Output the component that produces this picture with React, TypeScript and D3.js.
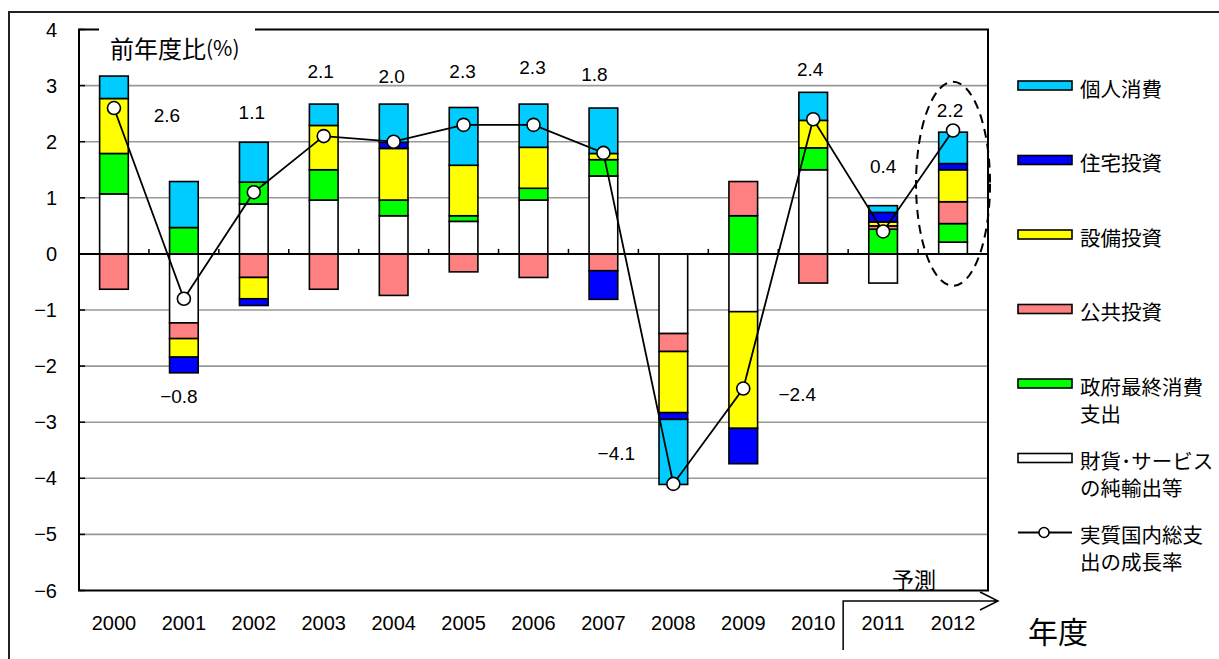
import React from "react";
import * as d3 from "d3";

// fiscal years on the x axis
const years = ["2000", "2001", "2002", "2003", "2004", "2005", "2006", "2007", "2008", "2009", "2010", "2011", "2012"];

// real GDE growth rate (line)
const growth = [2.6, -0.8, 1.1, 2.1, 2.0, 2.3, 2.3, 1.8, -4.1, -2.4, 2.4, 0.4, 2.2];

// contributions (stacked bars)
const netExports = [1.07, -1.23, 0.89, 0.96, 0.68, 0.58, 0.96, 1.39, -1.42, -1.03, 1.5, -0.52, 0.21];
const govConsumption = [0.72, 0.47, 0.39, 0.54, 0.28, 0.1, 0.21, 0.29, 0, 0.68, 0.39, 0.44, 0.33];
const publicInvestment = [-0.63, -0.28, -0.42, -0.63, -0.74, -0.32, -0.42, -0.3, -0.32, 0.61, -0.52, 0.06, 0.39];
const businessInvestment = [0.98, -0.33, -0.38, 0.79, 0.92, 0.9, 0.73, 0.11, -1.09, -2.08, 0.49, 0.07, 0.57];
const housingInvestment = [0, -0.28, -0.12, 0, 0.11, 0, 0, -0.51, -0.12, -0.63, 0, 0.17, 0.11];
const privateConsumption = [0.4, 0.82, 0.71, 0.38, 0.68, 1.03, 0.77, 0.81, -1.16, 0, 0.5, 0.12, 0.56];

const yTicks = [4, 3, 2, 1, 0, -1, -2, -3, -4, -5, -6];

// stacking order (bottom -> top)
const seriesKeys = ["net", "gov", "pub", "biz", "house", "priv"];
const seriesColors: Record<string, string> = {
  net: "#ffffff",
  gov: "#00ff00",
  pub: "#ff8080",
  biz: "#ffff00",
  house: "#0000ff",
  priv: "#00ccff",
};

// legend, top -> bottom
const legendKeys = ["priv", "house", "biz", "pub", "gov", "net"];
const legendLabels = [["個人消費"], ["住宅投資"], ["設備投資"], ["公共投資"], ["政府最終消費", "支出"], ["財貨･サービス", "の純輸出等"]];
const lineLegendLabel = ["実質国内総支", "出の成長率"];

// where each growth label sits relative to its marker (px)
const labelOffsets: [number, number][] = [
  [53, 7], [-5, 98], [-2, -80], [-3, -65], [-2, -65], [-1, -53], [-1, -57],
  [-9, -78], [-57, -30], [54, 6], [-3, -50], [0, -65], [-3, -20],
];

const W = 1219;
const H = 659;
const margin = { left: 79, right: 231, top: 29.5, bottom: 68.5 };
const numFont = "'Liberation Sans', Arial, sans-serif";
const jpFont = "'Noto Sans CJK JP', 'Noto Sans CJK SC', sans-serif";

const fmt = (v: number) => (v < 0 ? "\u2212" + Math.abs(v).toFixed(1) : v.toFixed(1));

export default function App() {
  const x0 = margin.left;
  const x1 = W - margin.right;
  const yTop = margin.top;
  const yBot = H - margin.bottom;

  const x = d3.scaleBand<string>().domain(years).range([x0, x1]).padding(0);
  const y = d3.scaleLinear().domain([-6, 4]).range([yBot, yTop]);
  const step = x.step();
  const bw = step * 0.41;
  const cx = (yr: string) => (x(yr) as number) + step / 2;

  const rows = years.map((yr, i) => ({
    year: yr,
    net: netExports[i],
    gov: govConsumption[i],
    pub: publicInvestment[i],
    biz: businessInvestment[i],
    house: housingInvestment[i],
    priv: privateConsumption[i],
  }));

  const stacked = d3
    .stack<any>()
    .keys(seriesKeys)
    .offset(d3.stackOffsetDiverging)(rows);

  const line = d3
    .line<number>()
    .x((_, i) => cx(years[i]))
    .y((d) => y(d));

  const legendX = 1018;
  const legendY0 = 85.5;
  const legendStep = 74.5;

  const bracketX = cx("2011") - step / 2 - 5;
  const arrowX = x1 + 10;

  const legendText = (s: string, key: number, ly: number) => (
    <text
      key={key}
      x={1080}
      y={ly}
      dominantBaseline="central"
      fontFamily={jpFont}
      fontSize={20.5}
      fill="#000"
    >
      {s}
    </text>
  );

  return (
    <svg
      width={W}
      height={H}
      style={{ position: "absolute", left: 0, top: 0, background: "#fff" }}
    >
      {/* outer frame */}
      <path d={`M9,${H} L9,12 L${W},12`} fill="none" stroke="#222" strokeWidth={2} />

      {/* grid */}
      {yTicks
        .filter((t) => t !== 0 && t !== 4 && t !== -6)
        .map((t) => (
          <line key={t} x1={x0} x2={x1} y1={y(t)} y2={y(t)} stroke="#999" strokeWidth={1.6} />
        ))}

      {/* stacked bars */}
      {stacked.map((layer) =>
        layer.map((d, i) => {
          if (d[0] === d[1]) return null;
          const top = y(Math.max(d[0], d[1]));
          const bottom = y(Math.min(d[0], d[1]));
          return (
            <rect
              key={layer.key + i}
              x={cx(years[i]) - bw / 2}
              y={top}
              width={bw}
              height={bottom - top}
              fill={seriesColors[layer.key]}
              stroke="#000"
              strokeWidth={1.6}
            />
          );
        })
      )}

      {/* zero line and category ticks */}
      <line x1={x0} x2={x1} y1={y(0)} y2={y(0)} stroke="#000" strokeWidth={2} />
      {years.slice(1).map((yr) => (
        <line key={yr} x1={x(yr)} x2={x(yr)} y1={y(0)} y2={y(0) - 5} stroke="#000" strokeWidth={1.5} />
      ))}

      {/* y axis ticks */}
      {yTicks.map((t) => (
        <line key={"t" + t} x1={x0} x2={x0 + 6} y1={y(t)} y2={y(t)} stroke="#000" strokeWidth={1.5} />
      ))}

      {/* plot border */}
      <rect x={x0} y={yTop} width={x1 - x0} height={yBot - yTop} fill="none" stroke="#000" strokeWidth={2} />
      <rect x={99} y={yTop - 3} width={156} height={6} fill="#fff" />
      <text x={110} y={47} dominantBaseline="central" fontFamily={jpFont} fontSize={24} fill="#000">
        前年度比<tspan fontSize={21}>(%)</tspan>
      </text>

      {/* y labels */}
      {yTicks.map((t) => (
        <text
          key={"l" + t}
          x={57}
          y={y(t)}
          textAnchor="end"
          dominantBaseline="central"
          fontFamily={numFont}
          fontSize={20}
          fill="#000"
        >
          {t < 0 ? "\u2212" + Math.abs(t) : t}
        </text>
      ))}

      {/* x labels */}
      {years.map((yr) => (
        <text
          key={"x" + yr}
          x={cx(yr)}
          y={623}
          textAnchor="middle"
          dominantBaseline="central"
          fontFamily={numFont}
          fontSize={20}
          fill="#000"
        >
          {yr}
        </text>
      ))}

      {/* forecast ellipse */}
      <ellipse
        cx={cx("2012")}
        cy={y(1.25)}
        rx={37}
        ry={102}
        fill="none"
        stroke="#000"
        strokeWidth={2}
        strokeDasharray="9,6"
      />

      {/* growth line */}
      <path d={line(growth) as string} fill="none" stroke="#000" strokeWidth={1.8} />
      {growth.map((g, i) => (
        <circle key={"c" + i} cx={cx(years[i])} cy={y(g)} r={6.5} fill="#fff" stroke="#000" strokeWidth={1.6} />
      ))}
      {growth.map((g, i) => (
        <text
          key={"g" + i}
          x={cx(years[i]) + labelOffsets[i][0]}
          y={y(g) + labelOffsets[i][1]}
          textAnchor="middle"
          dominantBaseline="central"
          fontFamily={numFont}
          fontSize={19}
          fill="#000"
        >
          {fmt(g)}
        </text>
      ))}

      {/* forecast bracket */}
      <text x={914} y={578} textAnchor="middle" dominantBaseline="central" fontFamily={jpFont} fontSize={22} fill="#000">
        予測
      </text>
      <path
        d={`M${bracketX},650 L${bracketX},601 L${arrowX},601 M${arrowX - 18},592 L${arrowX},601 L${arrowX - 18},610`}
        fill="none"
        stroke="#000"
        strokeWidth={1.5}
      />
      <text x={1058} y={630} textAnchor="middle" dominantBaseline="central" fontFamily={jpFont} fontSize={30} fill="#000">
        年度
      </text>

      {/* legend */}
      {legendKeys.map((k, i) => {
        const ly = legendY0 + legendStep * i;
        return (
          <g key={"lg" + k}>
            <rect x={legendX} y={ly - 4.5} width={54} height={9} fill={seriesColors[k]} stroke="#000" strokeWidth={1.6} />
            {legendLabels[i].map((s, j) => legendText(s, j, ly + 2 + j * 27))}
          </g>
        );
      })}
      {(() => {
        const ly = legendY0 + legendStep * 6;
        return (
          <g>
            <line x1={legendX} x2={legendX + 54} y1={ly} y2={ly} stroke="#000" strokeWidth={1.8} />
            <circle cx={legendX + 26} cy={ly} r={5} fill="#fff" stroke="#000" strokeWidth={1.6} />
            {lineLegendLabel.map((s, j) => legendText(s, j, ly + 1 + j * 27))}
          </g>
        );
      })()}
    </svg>
  );
}
